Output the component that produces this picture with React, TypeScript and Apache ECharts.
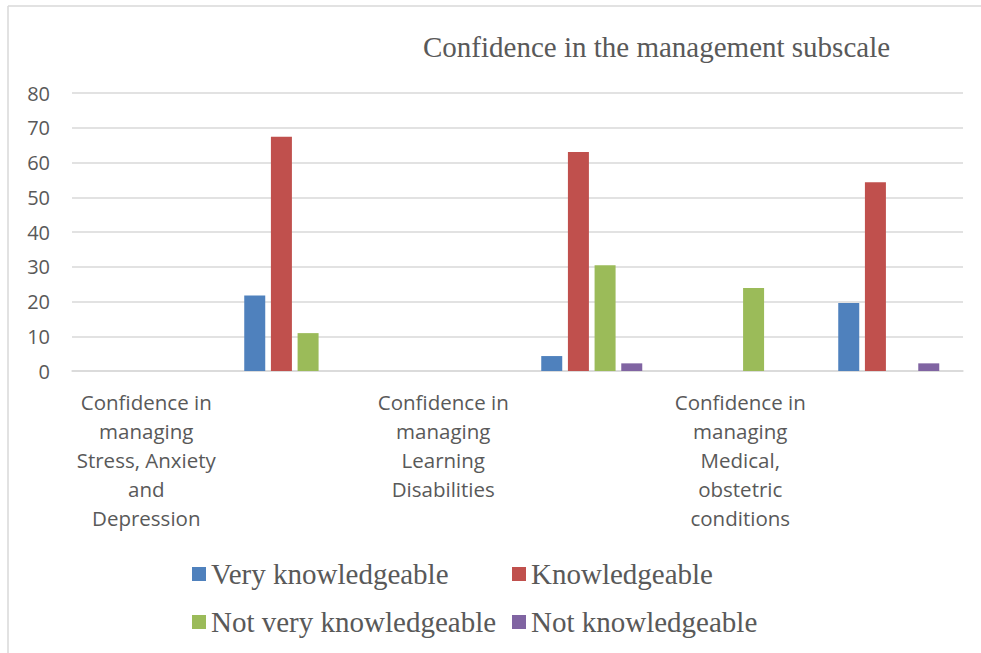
import React, { useEffect, useRef } from "react";
import * as echarts from "echarts";

const categories = [
  "Confidence in\nmanaging\nStress, Anxiety\nand\nDepression",
  " ",
  "Confidence in\nmanaging\nLearning\nDisabilities",
  "  ",
  "Confidence in\nmanaging\nMedical,\nobstetric\nconditions",
  "   ",
];
const seriesNames = ["Very knowledgeable", "Knowledgeable", "Not very knowledgeable", "Not knowledgeable"];
const veryKnowledgeable = [null, 21.7, null, 4.3, null, 19.6];
const knowledgeable = [null, 67.4, null, 63.0, null, 54.3];
const notVeryKnowledgeable = [null, 10.9, null, 30.4, 23.9, null];
const notKnowledgeable = [null, null, null, 2.2, null, 2.2];
const colors = ["#4F81BD", "#C0504D", "#9BBB59", "#8064A2"];
const titleText = "Confidence in the management subscale";

export default function App() {
  const ref = useRef<HTMLDivElement>(null);
  useEffect(() => {
    document.body.style.margin = "0";
    const chart = echarts.init(ref.current!, null, { renderer: "svg" });
    const values = [veryKnowledgeable, knowledgeable, notVeryKnowledgeable, notKnowledgeable];
    const legendText = { fontFamily: "Liberation Serif", fontSize: 29, color: "#595959", lineHeight: 34 };
    chart.setOption({
      animation: false,
      backgroundColor: "#ffffff",
      color: colors,
      title: {
        text: titleText,
        left: 418,
        top: 27,
        textStyle: { fontFamily: "Liberation Serif", fontSize: 29, fontWeight: "normal", color: "#595959" },
      },
      legend: [
        {
          data: [seriesNames[0], seriesNames[2]],
          orient: "vertical",
          left: 192,
          top: 557,
          padding: 0,
          icon: "rect",
          itemWidth: 14,
          itemHeight: 14,
          itemGap: 14,
          textStyle: legendText,
        },
        {
          data: [seriesNames[1], seriesNames[3]],
          orient: "vertical",
          left: 512,
          top: 557,
          padding: 0,
          icon: "rect",
          itemWidth: 14,
          itemHeight: 14,
          itemGap: 14,
          textStyle: legendText,
        },
      ],
      grid: { left: 72, right: 18, top: 93, bottom: 282, containLabel: false },
      xAxis: {
        type: "category",
        data: categories,
        axisLine: { show: true, lineStyle: { color: "#d9d9d9", width: 1.5 } },
        axisTick: { show: false },
        axisLabel: {
          interval: 0,
          margin: 16,
          fontFamily: "Open Sans",
          fontSize: 20.5,
          lineHeight: 29,
          color: "#595959",
          align: "center",
        },
      },
      yAxis: {
        type: "value",
        min: 0,
        max: 80,
        interval: 10,
        axisLine: { show: false },
        axisTick: { show: false },
        splitLine: { lineStyle: { color: "#d9d9d9", width: 1.5 } },
        axisLabel: { margin: 22, fontFamily: "Open Sans", fontSize: 20, color: "#595959" },
      },
      graphic: [
        { type: "line", shape: { x1: 8, y1: 6, x2: 981, y2: 6 }, style: { stroke: "#d9d9d9", lineWidth: 1.5 } },
        { type: "line", shape: { x1: 8, y1: 6, x2: 8, y2: 653 }, style: { stroke: "#d9d9d9", lineWidth: 1.5 } },
      ],
      series: seriesNames.map((name, i) => ({
        name,
        type: "bar",
        data: values[i],
        barWidth: 21,
        barGap: "27%",
        itemStyle: { color: colors[i] },
      })),
    });
    return () => chart.dispose();
  }, []);
  return <div ref={ref} style={{ width: 981, height: 653 }} />;
}
